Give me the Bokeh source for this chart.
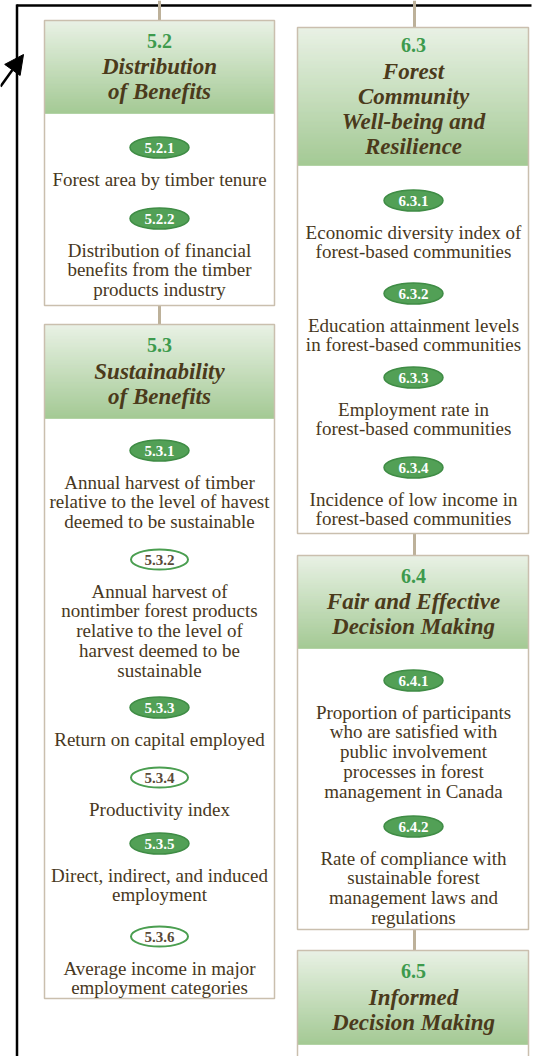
from bokeh.plotting import figure
from bokeh.models import Range1d, Arrow, NormalHead
from bokeh.core.properties import value
from bokeh.embed import file_html
from bokeh.resources import INLINE

# ---------------- data ----------------
box_ids = ["5.2", "5.3", "6.3", "6.4", "6.5"]
box_titles = [
    ["Distribution", "of Benefits"],
    ["Sustainability", "of Benefits"],
    ["Forest", "Community", "Well-being and", "Resilience"],
    ["Fair and Effective", "Decision Making"],
    ["Informed", "Decision Making"],
]
indicator_ids = ["5.2.1", "5.2.2", "5.3.1", "5.3.2", "5.3.3", "5.3.4", "5.3.5", "5.3.6",
                 "6.3.1", "6.3.2", "6.3.3", "6.3.4", "6.4.1", "6.4.2"]
indicator_filled = [True, True, True, False, True, False, True, False,
                    True, True, True, True, True, True]
indicator_texts = [
    ["Forest area by timber tenure"],
    ["Distribution of financial", "benefits from the timber", "products industry"],
    ["Annual harvest of timber", "relative to the level of havest", "deemed to be sustainable"],
    ["Annual harvest of", "nontimber forest products", "relative to the level of", "harvest deemed to be", "sustainable"],
    ["Return on capital employed"],
    ["Productivity index"],
    ["Direct, indirect, and induced", "employment"],
    ["Average income in major", "employment categories"],
    ["Economic diversity index of", "forest-based communities"],
    ["Education attainment levels", "in forest-based communities"],
    ["Employment rate in", "forest-based communities"],
    ["Incidence of low income in", "forest-based communities"],
    ["Proportion of participants", "who are satisfied with", "public involvement", "processes in forest", "management in Canada"],
    ["Rate of compliance with", "sustainable forest", "management laws and", "regulations"],
]

# ---------------- layout (pixel space of the page) ----------------
box_left = [44, 44, 297, 297, 297]
box_right = [274, 274, 528, 528, 528]
box_top = [20, 324, 27, 555, 950]
box_head_bottom = [113, 418, 165, 648, 1044]
box_bottom = [305, 998, 533, 929, 1070]
indicator_box = [0, 0, 1, 1, 1, 1, 1, 1, 2, 2, 2, 2, 3, 3]
indicator_y = [147, 218, 450, 559, 707, 777, 843, 936, 200, 293, 377, 467, 680, 826]
connectors = [(0, 0, 20), (0, 305, 324), (2, 0, 27), (2, 533, 555), (3, 929, 950)]

SERIF = value("Liberation Serif")
BORDER = "#cabfae"
TEXT = "#483822"
TITLE = "#4b3a1b"
NUM = "#3d9a4d"

p = figure(width=535, height=1056, x_range=Range1d(0, 535), y_range=Range1d(1056, 0),
           output_backend="svg", toolbar_location=None, min_border=0,
           background_fill_color="white", border_fill_color="white")
p.axis.visible = False
p.grid.visible = False
p.outline_line_color = None

# frame lines
p.segment(x0=[16.5, 16], y0=[4, 5], x1=[16.5, 531], y1=[1060, 5],
          line_color="black", line_width=2.5)

# connectors
cx = [(box_left[b] + box_right[b]) / 2 + (1.5 if b >= 2 else 0) for b, _, _ in connectors]
p.segment(x0=cx, y0=[c[1] for c in connectors], x1=cx, y1=[c[2] for c in connectors],
          line_color="#bdb19a", line_width=3)

# boxes
p.quad(left=box_left, right=box_right, top=box_top, bottom=box_bottom,
       fill_color="white", line_color=None)

# header gradients (1px strips)
top_c = (232, 241, 228)
bot_c = (160, 199, 144)
gl, gr, gt, gb, gc = [], [], [], [], []
for i in range(len(box_ids)):
    h = box_head_bottom[i] - box_top[i]
    for k in range(h):
        f = (k + 0.5) / h
        col = tuple(int(round(top_c[j] + (bot_c[j] - top_c[j]) * f)) for j in range(3))
        gl.append(box_left[i]); gr.append(box_right[i])
        gt.append(box_top[i] + k); gb.append(box_top[i] + k + 1)
        gc.append("#%02x%02x%02x" % col)
p.quad(left=gl, right=gr, top=gt, bottom=gb, fill_color=gc, line_color=gc, line_width=0.6)

p.quad(left=box_left, right=box_right, top=box_top, bottom=box_bottom,
       fill_color=None, line_color=BORDER, line_width=1.5)

# header texts
nx, ny, tx, ty, tt = [], [], [], [], []
for i in range(len(box_ids)):
    cxi = (box_left[i] + box_right[i]) / 2 + (0.5 if i >= 2 else 0)
    center = (box_top[i] + box_head_bottom[i]) / 2
    n = len(box_titles[i])
    span = 26 + 25 * (n - 1)
    y0 = center - span / 2 - 1
    nx.append(cxi); ny.append(y0)
    for k, line in enumerate(box_titles[i]):
        tx.append(cxi); ty.append(y0 + 26 + 25 * k); tt.append(line)
p.text(x=nx, y=ny, text=box_ids, text_font=SERIF, text_font_style="bold",
       text_font_size="20px", text_color=NUM, text_align="center", text_baseline="middle")
p.text(x=tx, y=ty, text=tt, text_font=SERIF, text_font_style="bold italic",
       text_font_size="23px", text_color=TITLE, text_align="center", text_baseline="middle")

# indicators
ox = [(box_left[b] + box_right[b]) / 2 + (0.5 if b >= 2 else 0) for b in indicator_box]
fx = [x for x, f in zip(ox, indicator_filled) if f]
fy = [y for y, f in zip(indicator_y, indicator_filled) if f]
fl = [t for t, f in zip(indicator_ids, indicator_filled) if f]
ex = [x for x, f in zip(ox, indicator_filled) if not f]
ey = [y for y, f in zip(indicator_y, indicator_filled) if not f]
el = [t for t, f in zip(indicator_ids, indicator_filled) if not f]
p.ellipse(x=fx, y=fy, width=59, height=21, fill_color="#52a056", line_color="#3f8c45", line_width=1.5)
p.ellipse(x=ex, y=ey, width=57, height=20, fill_color="white", line_color="#4a9e50", line_width=2)
p.text(x=fx, y=fy, text=fl, text_font=SERIF, text_font_style="bold", text_font_size="15px",
       text_color="white", text_align="center", text_baseline="middle")
p.text(x=ex, y=ey, text=el, text_font=SERIF, text_font_style="bold", text_font_size="15px",
       text_color="#5a4a38", text_align="center", text_baseline="middle")

lx, ly, lt = [], [], []
for x, y, lines in zip(ox, indicator_y, indicator_texts):
    for k, line in enumerate(lines):
        lx.append(x); ly.append(y + 31.5 + 19.8 * k); lt.append(line)
p.text(x=lx, y=ly, text=lt, text_font=SERIF, text_font_size="19px", text_color=TEXT,
       text_align="center", text_baseline="middle")

# arrow
p.add_layout(Arrow(end=NormalHead(size=19, fill_color="black", line_color="black"),
                   x_start=0, y_start=86, x_end=23, y_end=54,
                   line_color="black", line_width=2.5))

open("out.html", "w").write(file_html(p, INLINE))
